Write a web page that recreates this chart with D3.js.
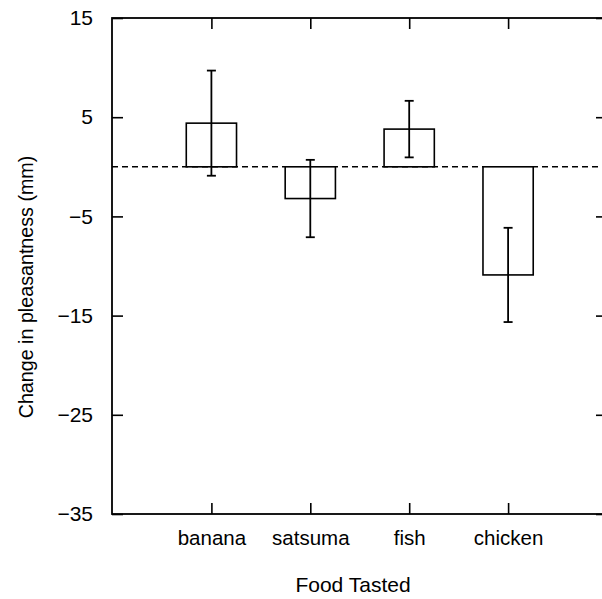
<!DOCTYPE html>
<html>
<head>
<meta charset="utf-8">
<script src="https://cdn.jsdelivr.net/npm/d3@7"></script>
<style>
  html, body { margin: 0; padding: 0; background: #fff; }
  svg { display: block; }
  text { font-family: "Liberation Sans", Arial, Helvetica, sans-serif; fill: #000; }
</style>
</head>
<body>
<svg id="chart" width="602" height="599"></svg>
<script>
// Foods tasted and the mean change in rated pleasantness (mm), with error bar half-widths
const foods = ["banana", "satsuma", "fish", "chicken"];
const meanChange = [4.4, -3.2, 3.8, -10.9];
const errorHalf = [5.3, 3.9, 2.85, 4.75];
const yTicks = [15, 5, -5, -15, -25, -35];

const svg = d3.select("#chart");
const frame = { left: 112, right: 607, top: 18, bottom: 514 };

const x = d3.scaleLinear().domain([0, foods.length + 1]).range([frame.left + 0.5, frame.right]);
const y = d3.scaleLinear().domain([-35, 15]).range([frame.bottom, frame.top]);
const barHalf = 0.254; // in category units
const capHalf = 4.5;   // px
const tickLen = 11;

const rows = foods.map((f, i) => ({ food: f, pos: i + 1, mean: meanChange[i], err: errorHalf[i] }));

// Zero reference line
svg.append("line")
  .attr("x1", frame.left).attr("x2", frame.right)
  .attr("y1", y(0)).attr("y2", y(0))
  .attr("stroke", "#000").attr("stroke-width", 1.6)
  .attr("stroke-dasharray", "6,4");

// Bars
svg.append("g").selectAll("rect").data(rows).join("rect")
  .attr("x", d => x(d.pos - barHalf))
  .attr("width", d => x(d.pos + barHalf) - x(d.pos - barHalf))
  .attr("y", d => y(Math.max(0, d.mean)))
  .attr("height", d => Math.abs(y(d.mean) - y(0)))
  .attr("fill", "#fff").attr("stroke", "#000").attr("stroke-width", 1.6);

// Error bars
const eb = svg.append("g").attr("stroke", "#000").attr("stroke-width", 1.8);
rows.forEach(d => {
  const cx = x(d.pos);
  eb.append("line").attr("x1", cx).attr("x2", cx)
    .attr("y1", y(d.mean + d.err)).attr("y2", y(d.mean - d.err));
  [d.mean + d.err, d.mean - d.err].forEach(v => {
    eb.append("line").attr("x1", cx - capHalf).attr("x2", cx + capHalf)
      .attr("y1", y(v)).attr("y2", y(v));
  });
});

// Axes with inward ticks on all four sides
const axisL = svg.append("g").attr("transform", `translate(${frame.left},0)`)
  .call(d3.axisLeft(y).tickValues(yTicks).tickSizeInner(-tickLen).tickSizeOuter(0).tickPadding(19));
const axisR = svg.append("g").attr("transform", `translate(${frame.right},0)`)
  .call(d3.axisRight(y).tickValues(yTicks).tickSizeInner(-tickLen).tickSizeOuter(0).tickFormat(""));
const axisB = svg.append("g").attr("transform", `translate(0,${frame.bottom})`)
  .call(d3.axisBottom(x).tickValues(rows.map(d => d.pos)).tickSizeInner(-tickLen).tickSizeOuter(0)
    .tickPadding(16).tickFormat(v => foods[v - 1]));
const axisT = svg.append("g").attr("transform", `translate(0,${frame.top})`)
  .call(d3.axisTop(x).tickValues(rows.map(d => d.pos)).tickSizeInner(-tickLen).tickSizeOuter(0).tickFormat(""));

[axisL, axisR, axisB, axisT].forEach(g => {
  g.select(".domain").remove();
  g.selectAll(".tick line").attr("stroke", "#000").attr("stroke-width", 1.6);
});
axisL.selectAll("text").attr("font-size", 21).attr("font-family", "Liberation Sans, Arial, sans-serif");
axisB.selectAll("text").attr("font-size", 20.5).attr("font-family", "Liberation Sans, Arial, sans-serif");

// Frame
svg.append("rect")
  .attr("x", frame.left).attr("y", frame.top)
  .attr("width", frame.right - frame.left).attr("height", frame.bottom - frame.top)
  .attr("fill", "none").attr("stroke", "#000").attr("stroke-width", 1.8);

// Axis titles
svg.append("text")
  .attr("x", (frame.left + 600) / 2 - 3).attr("y", 591.5)
  .attr("text-anchor", "middle").attr("font-size", 21)
  .text("Food Tasted");

svg.append("text")
  .attr("transform", "translate(32.5,287) rotate(-90)")
  .attr("text-anchor", "middle").attr("font-size", 19.7)
  .text("Change in pleasantness (mm)");
</script>
</body>
</html>
